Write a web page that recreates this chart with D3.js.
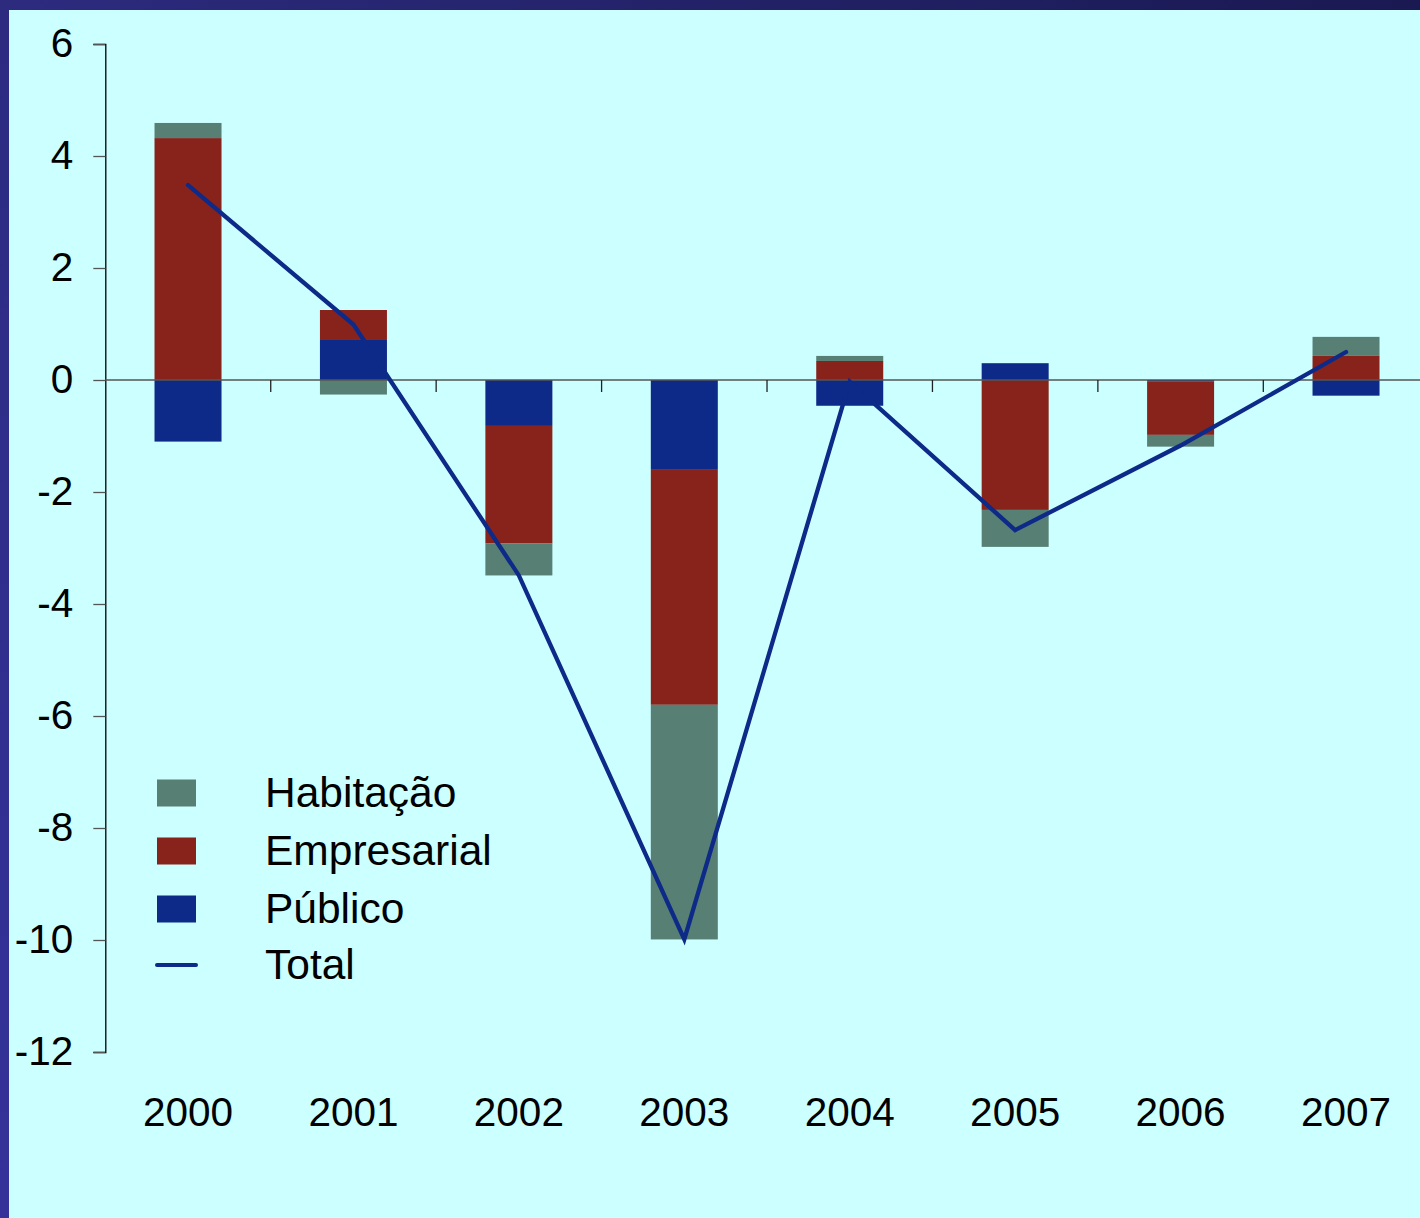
<!DOCTYPE html>
<html>
<head>
<meta charset="utf-8">
<script src="https://cdn.jsdelivr.net/npm/d3@7"></script>
<style>
  html, body { margin: 0; padding: 0; background: #CCFFFF; }
  svg { display: block; }
  text { font-family: Arial, "Liberation Sans", sans-serif; fill: #000; }
</style>
</head>
<body>
<script>
const years = ["2000", "2001", "2002", "2003", "2004", "2005", "2006", "2007"];
const habitacao   = [0.27, -0.26, -0.57, -4.19, 0.09, -0.66, -0.21, 0.34];
const empresarial = [4.32, 0.52, -2.10, -4.21, 0.34, -2.32, -0.95, 0.43];
const publico     = [-1.10, 0.73, -0.82, -1.59, -0.46, 0.30, -0.03, -0.28];
const total       = [3.48, 0.99, -3.49, -9.99, -0.03, -2.68, -1.17, 0.50];
const yTicks = [6, 4, 2, 0, -2, -4, -6, -8, -10, -12];
const seriesNames = ["Público", "Empresarial", "Habitação"];
const legendNames = ["Habitação", "Empresarial", "Público", "Total"];

const W = 1420, H = 1218;
const colors = { "Habitação": "#577F73", "Empresarial": "#88231C", "Público": "#0E2A88" };
const lineColor = "#0E2A88";

const svg = d3.select("body").append("svg").attr("width", W).attr("height", H);

// background and frame
const defs = svg.append("defs");
const gTop = defs.append("linearGradient").attr("id", "gtop").attr("x1", 0).attr("x2", 1).attr("y1", 0).attr("y2", 0);
gTop.append("stop").attr("offset", 0).attr("stop-color", "#2c2b7e");
gTop.append("stop").attr("offset", 1).attr("stop-color", "#1a1952");
const gLeft = defs.append("linearGradient").attr("id", "gleft").attr("x1", 0).attr("x2", 0).attr("y1", 0).attr("y2", 1);
gLeft.append("stop").attr("offset", 0).attr("stop-color", "#2c2b80");
gLeft.append("stop").attr("offset", 1).attr("stop-color", "#34329a");

svg.append("rect").attr("width", W).attr("height", H).attr("fill", "#CCFFFF");
svg.append("rect").attr("x", 0).attr("y", 0).attr("width", 9).attr("height", H).attr("fill", "url(#gleft)");
svg.append("rect").attr("x", 0).attr("y", 0).attr("width", W).attr("height", 10).attr("fill", "url(#gtop)");

const x0 = 105.3, step = 165.43;
const x = d3.scaleBand().domain(years).range([x0, x0 + step * years.length])
  .paddingInner(0.595).paddingOuter(0.2975);
const y = d3.scaleLinear().domain([-12, 6]).range([1052, 44]);

// stacked data
const rows = years.map((yr, i) => ({ year: yr, "Habitação": habitacao[i], "Empresarial": empresarial[i], "Público": publico[i] }));
const stack = d3.stack().keys(seriesNames).offset(d3.stackOffsetDiverging);
const stacked = stack(rows);

const bars = svg.append("g");
stacked.forEach(s => {
  bars.append("g").attr("fill", colors[s.key])
    .selectAll("rect").data(s).join("rect")
    .attr("x", d => x(d.data.year))
    .attr("width", x.bandwidth())
    .attr("y", d => y(Math.max(d[0], d[1])))
    .attr("height", d => Math.abs(y(d[0]) - y(d[1])));
});

// y axis
const yAxis = svg.append("g").attr("transform", `translate(${x0},0)`)
  .call(d3.axisLeft(y).tickValues(yTicks).tickSize(12).tickPadding(20).tickFormat(d => String(d)));
yAxis.select(".domain").attr("stroke", "#000").attr("stroke-width", 1.3);
yAxis.selectAll(".tick line").attr("stroke", "#555").attr("stroke-width", 1.3);
yAxis.selectAll(".tick text").attr("font-size", 40.5).attr("font-family", "Arial, 'Liberation Sans', sans-serif").attr("fill", "#000");

// zero line with category boundary ticks
const xAxisG = svg.append("g");
xAxisG.append("line").attr("x1", x0).attr("x2", W).attr("y1", y(0)).attr("y2", y(0))
  .attr("stroke", "#555").attr("stroke-width", 1.5);
years.forEach((yr, i) => {
  if (i === 0) return;
  const bx = x0 + step * i;
  xAxisG.append("line").attr("x1", bx).attr("x2", bx).attr("y1", y(0)).attr("y2", y(0) + 12)
    .attr("stroke", "#222").attr("stroke-width", 1.3);
});

// x labels
svg.append("g").selectAll("text").data(years).join("text")
  .attr("x", d => x(d) + x.bandwidth() / 2)
  .attr("y", 1126)
  .attr("text-anchor", "middle")
  .attr("font-size", 40.5)
  .text(d => d);

// total line
const line = d3.line().x((d, i) => x(years[i]) + x.bandwidth() / 2).y(d => y(d));
svg.append("path").datum(total).attr("d", line)
  .attr("fill", "none").attr("stroke", lineColor).attr("stroke-width", 4.3)
  .attr("stroke-linejoin", "miter").attr("stroke-linecap", "round");

// legend
const lg = svg.append("g");
const legY = [793, 851, 909, 965];
legendNames.forEach((name, i) => {
  if (name === "Total") {
    lg.append("line").attr("x1", 157).attr("x2", 196).attr("y1", legY[i]).attr("y2", legY[i])
      .attr("stroke", lineColor).attr("stroke-width", 4).attr("stroke-linecap", "round");
  } else {
    lg.append("rect").attr("x", 157).attr("y", legY[i] - 13.5).attr("width", 39).attr("height", 27)
      .attr("fill", colors[name]);
  }
  lg.append("text").attr("x", 265).attr("y", legY[i] + 14).attr("font-size", 42.5).text(name);
});
</script>
</body>
</html>
